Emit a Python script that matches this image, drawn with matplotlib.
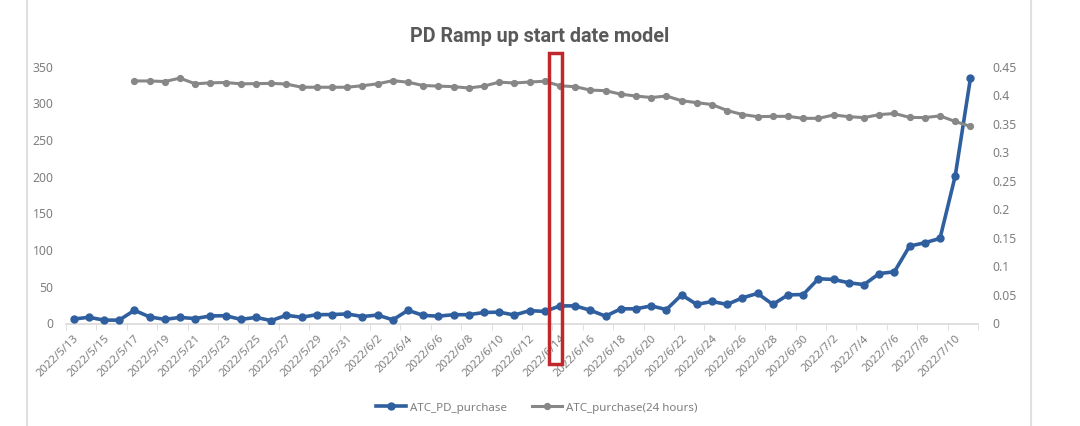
import matplotlib
matplotlib.use("Agg")
import matplotlib.pyplot as plt
from matplotlib.lines import Line2D
from matplotlib.patches import Rectangle
import numpy as np
import pandas as pd

# daily categories 2022/5/13 .. 2022/7/11
dates = pd.date_range("2022-05-13", "2022-07-11", freq="D")
date_labels = ["%d/%d/%d" % (d.year, d.month, d.day) for d in dates]

# ATC_PD_purchase (left axis)
pd_purchase = [6, 8.5, 4.6, 4.6, 18, 9, 5.6, 8.3, 6.7, 10.3,
               10.6, 5.6, 8.3, 4, 11.2, 8.5, 12, 12.2, 13, 9.5,
               11.5, 5, 18, 11, 10, 12, 12, 15, 15.5, 11.5,
               17.5, 16.5, 24, 24, 18, 10, 20, 20, 24, 19,
               39, 26, 30, 26, 35, 41, 26, 39, 39.5, 61,
               60, 55.5, 53, 68, 70.5, 105.5, 110, 116, 201, 334]

# ATC_purchase(24 hours) (right axis), starts on 5/17
atc_24h = [np.nan, np.nan, np.nan, np.nan, 0.425, 0.425, 0.424, 0.430, 0.420, 0.4217,
           0.4223, 0.420, 0.4203, 0.4208, 0.4196, 0.414, 0.414, 0.414, 0.414, 0.4167,
           0.420, 0.4255, 0.4228, 0.417, 0.416, 0.415, 0.4127, 0.416, 0.423, 0.4214,
           0.4232, 0.4245, 0.4165, 0.415, 0.409, 0.408, 0.4018, 0.3986, 0.396, 0.3986,
           0.3904, 0.387, 0.3837, 0.3732, 0.3662, 0.3624, 0.363, 0.363, 0.3595, 0.3595,
           0.3654, 0.3624, 0.3608, 0.366, 0.368, 0.3612, 0.3608, 0.3638, 0.354, 0.3455]

left_ticks = [0, 50, 100, 150, 200, 250, 300, 350]
right_ticks = [0, 0.05, 0.1, 0.15, 0.2, 0.25, 0.3, 0.35, 0.4, 0.45]
right_tick_labels = ["0", "0.05", "0.1", "0.15", "0.2", "0.25", "0.3", "0.35", "0.4", "0.45"]

blue = "#2f5f9e"
grey = "#878787"
text_grey = "#7f7f7f"

plt.rcParams['font.family'] = ['Noto Sans', 'DejaVu Sans']

fig = plt.figure(figsize=(10.8, 4.26), dpi=100)
ax = fig.add_axes([66 / 1080, 1 - 323.5 / 426, (978 - 66) / 1080, (323.5 - 66.7) / 426])
ax2 = ax.twinx()

x = np.arange(len(dates))
ax.plot(x, pd_purchase, color=blue, linewidth=2.6, marker="o", markersize=5, zorder=3)
ax2.plot(x, atc_24h, color=grey, linewidth=2.2, marker="o", markersize=4.2, zorder=2)

ax.set_xlim(-0.5, len(dates) - 0.5)
ax.set_ylim(0, 350)
ax2.set_ylim(0, 0.45)

ax.set_yticks(left_ticks)
ax2.set_yticks(right_ticks)
ax2.set_yticklabels(right_tick_labels)

ax.set_xticks(x[::2])
ax.set_xticklabels(date_labels[::2], rotation=45, ha="right", rotation_mode="anchor")

# only a light x axis line, no other spines
for a in (ax, ax2):
    for s in a.spines.values():
        s.set_visible(False)
ax.spines["bottom"].set_visible(True)
ax.spines["bottom"].set_color("#d9d9d9")
ax.spines["bottom"].set_linewidth(1.2)

ax.tick_params(axis="y", length=0, pad=9, labelsize=8.8, labelcolor=text_grey)
ax2.tick_params(axis="y", length=0, pad=10, labelsize=8.8, labelcolor=text_grey)
ax.tick_params(axis="x", length=0, pad=7, labelsize=8.2, labelcolor=text_grey)

# small tick marks between categories
ax.set_xticks(np.arange(-0.5, len(dates), 2), minor=True)
ax.tick_params(axis="x", which="minor", length=4, color="#d9d9d9")

fig.text(0.5, 1 - 37 / 426, "PD Ramp up start date model", ha="center", va="center",
         fontsize=14.2, fontweight="bold", color="#595959", family=["Roboto", "DejaVu Sans"])

# legend under the graph
handles = [Line2D([], [], color=blue, linewidth=2.6, marker="o", markersize=5),
           Line2D([], [], color=grey, linewidth=2.2, marker="o", markersize=4.2)]
fig.legend(handles, ["ATC_PD_purchase", "ATC_purchase(24 hours)"], loc="center",
           bbox_to_anchor=(0.497, 1 - 408 / 426), ncol=2, frameon=False, fontsize=8.3,
           handlelength=2.6, handletextpad=0.3, columnspacing=2.2, labelcolor=text_grey)

# chart border lines left / right
fig.add_artist(Line2D([27 / 1080, 27 / 1080], [0, 1], color="#e0e0e0", linewidth=1.5))
fig.add_artist(Line2D([1031 / 1080, 1031 / 1080], [0, 1], color="#e0e0e0", linewidth=1.5))

# red highlight box around 6/13
fig.add_artist(Rectangle((549 / 1080, 1 - 364 / 426), 13 / 1080, 311 / 426,
                         fill=False, edgecolor="#c0282d", linewidth=2.5,
                         transform=fig.transFigure, zorder=10))

fig.savefig("out.png", dpi=100, facecolor="white")
